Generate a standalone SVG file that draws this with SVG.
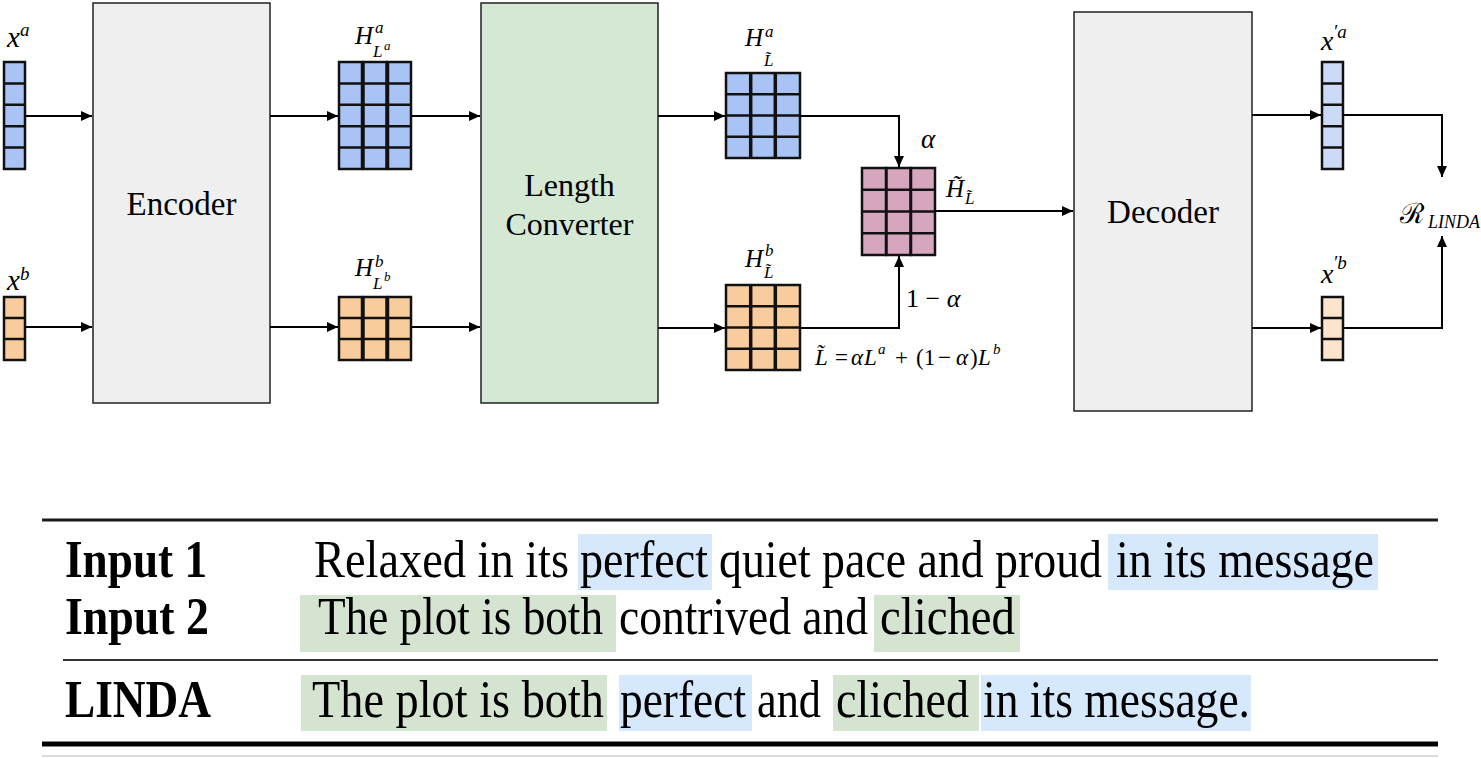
<svg xmlns="http://www.w3.org/2000/svg" width="1481" height="758" viewBox="0 0 1481 758">
<style>
.box{stroke:#222;stroke-width:1.5}
.cell{stroke:#111;stroke-width:2.5}
.div{stroke:#111;stroke-width:2.5}
.blue{fill:#a9c4f4}
.orange{fill:#f9cc9d}
.pink{fill:#d5a6bd}
.lblue{fill:#cadaf7}
.lorange{fill:#fce4cc}
.conn{stroke:#000;stroke-width:2;fill:none}
.lbl{font-family:"Liberation Serif","Times New Roman",serif;fill:#000}
.mi{font-family:"Liberation Serif","Times New Roman",serif;font-style:italic;fill:#000}
.mr{font-family:"Liberation Serif","Times New Roman",serif;fill:#000}
.tb{font-family:"Liberation Serif","Times New Roman",serif;font-size:45px;fill:#000}
.bold{font-weight:bold}
.hb{fill:#d6e9fc}
.hg{fill:#d4e4d1}
.tline{stroke:#1a1a1a}
</style>
<defs>
<marker id="ah" markerWidth="11" markerHeight="10" refX="11" refY="5" orient="auto" markerUnits="userSpaceOnUse">
<path d="M0,0 L11,5 L0,10 z" fill="#000"/>
</marker>
</defs>

<!-- Encoder -->
<g id="encoder">
<rect class="box" x="93" y="3" width="177" height="400" fill="#efefef"/>
<text class="lbl" x="181.5" y="215" font-size="33" text-anchor="middle">Encoder</text>
</g>

<!-- Length Converter -->
<g id="length-converter">
<rect class="box" x="481" y="3" width="177" height="400" fill="#d5e8d4"/>
<text class="lbl" x="569.5" y="196" font-size="32" text-anchor="middle">Length</text>
<text class="lbl" x="569.5" y="235" font-size="32" text-anchor="middle">Converter</text>
</g>

<!-- Decoder -->
<g id="decoder">
<rect class="box" x="1074" y="12" width="178" height="399" fill="#efefef"/>
<text class="lbl" x="1163" y="223" font-size="33" text-anchor="middle">Decoder</text>
</g>

<!-- x^a -->
<g id="xa">
<rect class="cell blue" x="4" y="62" width="21" height="107"/>
<path class="div" d="M4,83.4H25M4,104.8H25M4,126.2H25M4,147.6H25"/>
<text class="mi" x="7" y="47" font-size="29">x</text>
<text class="mi" x="20" y="36" font-size="19">a</text>
</g>

<!-- x^b -->
<g id="xb">
<rect class="cell orange" x="4" y="297" width="21" height="63"/>
<path class="div" d="M4,318H25M4,339H25"/>
<text class="mi" x="7" y="290" font-size="29">x</text>
<text class="mi" x="20" y="280" font-size="19">b</text>
</g>

<!-- H^a_{L^a} -->
<g id="hla">
<rect class="cell blue" x="339" y="62" width="23" height="107"/>
<rect class="cell blue" x="363.5" y="62" width="23" height="107"/>
<rect class="cell blue" x="388" y="62" width="23" height="107"/>
<path class="div" d="M339,83.4H411M339,104.8H411M339,126.2H411M339,147.6H411"/>
<text class="mi" x="355" y="44" font-size="25">H</text>
<text class="mi" x="375" y="33" font-size="17">a</text>
<text class="mi" x="373" y="57" font-size="17">L</text>
<text class="mi" x="384" y="50" font-size="13">a</text>
</g>

<!-- H^b_{L^b} -->
<g id="hlb">
<rect class="cell orange" x="339" y="297" width="23" height="63"/>
<rect class="cell orange" x="363.5" y="297" width="23" height="63"/>
<rect class="cell orange" x="388" y="297" width="23" height="63"/>
<path class="div" d="M339,318H411M339,339H411"/>
<text class="mi" x="355" y="276" font-size="25">H</text>
<text class="mi" x="375" y="267" font-size="17">b</text>
<text class="mi" x="373" y="289" font-size="17">L</text>
<text class="mi" x="384" y="281" font-size="13">b</text>
</g>

<!-- H^a_{L~} -->
<g id="hta">
<rect class="cell blue" x="726" y="73" width="74" height="85"/>
<path class="div" style="stroke-width:3.5" d="M750.7,73V158M775.3,73V158"/>
<path class="div" d="M726,94.25H800M726,115.5H800M726,136.75H800"/>
<text class="mi" x="745" y="46" font-size="25">H</text>
<text class="mi" x="765" y="37" font-size="17">a</text>
<text class="mi" x="764" y="66" font-size="17">L̃</text>
</g>

<!-- H^b_{L~} -->
<g id="htb">
<rect class="cell orange" x="726" y="285" width="74" height="85"/>
<path class="div" style="stroke-width:3.5" d="M750.7,285V370M775.3,285V370"/>
<path class="div" d="M726,306.25H800M726,327.5H800M726,348.75H800"/>
<text class="mi" x="745" y="267" font-size="25">H</text>
<text class="mi" x="765" y="256" font-size="17">b</text>
<text class="mi" x="764" y="278" font-size="17">L̃</text>
</g>

<!-- mixed H~_{L~} -->
<g id="hmix">
<rect class="cell pink" x="862" y="168" width="24" height="87"/>
<rect class="cell pink" x="886.5" y="168" width="24" height="87"/>
<rect class="cell pink" x="911" y="168" width="24" height="87"/>
<path class="div" d="M862,189.75H935M862,211.5H935M862,233.25H935"/>
<text class="mi" x="946" y="197" font-size="25">H̃</text>
<text class="mi" x="965" y="204" font-size="17">L̃</text>
</g>

<!-- x'^a -->
<g id="xpa">
<rect class="cell lblue" x="1322" y="62" width="21" height="107"/>
<path class="div" d="M1322,83.4H1343M1322,104.8H1343M1322,126.2H1343M1322,147.6H1343"/>
<text class="mi" x="1321" y="50" font-size="28">x</text>
<text class="mi" x="1333" y="38" font-size="19">′a</text>
</g>

<!-- x'^b -->
<g id="xpb">
<rect class="cell lorange" x="1322" y="297" width="21" height="63"/>
<path class="div" d="M1322,318H1343M1322,339H1343"/>
<text class="mi" x="1321" y="283" font-size="28">x</text>
<text class="mi" x="1333" y="269" font-size="19">′b</text>
</g>

<!-- R_LINDA -->
<g id="rlinda">
<text x="1400" y="223" font-size="28" font-family="'DejaVu Serif','Liberation Serif',serif" fill="#000">ℛ</text>
<text class="mi" x="1428" y="228" font-size="18">LINDA</text>
</g>

<!-- labels -->
<g id="mix-labels">
<text class="mi" x="921" y="148" font-size="27">α</text>
<text class="mr" x="906" y="307" font-size="26">1 − <tspan font-style="italic">α</tspan></text>
<text class="mi" x="815" y="365" font-size="23">L̃</text>
<text class="mr" x="835" y="365" font-size="23">=</text>
<text class="mi" x="851" y="365" font-size="23">α</text>
<text class="mi" x="864" y="365" font-size="23">L</text>
<text class="mi" x="878" y="354" font-size="15">a</text>
<text class="mr" x="895" y="365" font-size="23">+</text>
<text class="mr" x="916" y="365" font-size="23">(1</text>
<text class="mr" x="938" y="365" font-size="23">−</text>
<text class="mi" x="956" y="365" font-size="23">α</text>
<text class="mr" x="970" y="365" font-size="23">)</text>
<text class="mi" x="978" y="365" font-size="23">L</text>
<text class="mi" x="993" y="354" font-size="15">b</text>
</g>

<!-- connectors -->
<g id="connectors">
<path class="conn" d="M25,116H92" marker-end="url(#ah)"/>
<path class="conn" d="M25,327H92" marker-end="url(#ah)"/>
<path class="conn" d="M270,116H338" marker-end="url(#ah)"/>
<path class="conn" d="M270,327H338" marker-end="url(#ah)"/>
<path class="conn" d="M411,116H480" marker-end="url(#ah)"/>
<path class="conn" d="M411,327H480" marker-end="url(#ah)"/>
<path class="conn" d="M658,116H725" marker-end="url(#ah)"/>
<path class="conn" d="M658,328H725" marker-end="url(#ah)"/>
<path class="conn" d="M800,116H899V167" marker-end="url(#ah)"/>
<path class="conn" d="M800,328H899V256" marker-end="url(#ah)"/>
<path class="conn" d="M935,211H1073" marker-end="url(#ah)"/>
<path class="conn" d="M1252,115H1321" marker-end="url(#ah)"/>
<path class="conn" d="M1252,328H1321" marker-end="url(#ah)"/>
<path class="conn" d="M1343,115H1442V177" marker-end="url(#ah)"/>
<path class="conn" d="M1343,328H1442V236" marker-end="url(#ah)"/>
</g>

<!-- table -->
<g id="table">
<line class="tline" x1="42" y1="520" x2="1438" y2="520" stroke-width="3"/>
<line x1="63" y1="660" x2="1438" y2="660" stroke="#333" stroke-width="2"/>
<line x1="42" y1="744" x2="1438" y2="744" stroke="#000" stroke-width="5"/>
<line x1="42" y1="756" x2="1438" y2="756" stroke="#d0d0d0" stroke-width="1.5"/>

<rect class="hb" x="578" y="534" width="134" height="56"/>
<rect class="hb" x="1108" y="534" width="270" height="56"/>
<rect class="hg" x="300" y="595" width="316" height="57"/>
<rect class="hg" x="874" y="595" width="146" height="57"/>
<rect class="hg" x="301" y="675" width="306" height="56"/>
<rect class="hb" x="619" y="675" width="133" height="56"/>
<rect class="hg" x="833" y="675" width="146" height="56"/>
<rect class="hb" x="981" y="675" width="270" height="56"/>

<text class="tb bold" transform="translate(65,577) scale(1,1.16)" textLength="142" lengthAdjust="spacingAndGlyphs">Input 1</text>
<text class="tb bold" transform="translate(65,634) scale(1,1.16)" textLength="144" lengthAdjust="spacingAndGlyphs">Input 2</text>
<text class="tb bold" transform="translate(65,717) scale(1,1.16)" textLength="146" lengthAdjust="spacingAndGlyphs">LINDA</text>

<text class="tb" transform="translate(314,577) scale(1,1.16)" textLength="255" lengthAdjust="spacingAndGlyphs">Relaxed in its</text>
<text class="tb" transform="translate(580,577) scale(1,1.16)" textLength="128" lengthAdjust="spacingAndGlyphs" fill="#0e1c2c">perfect</text>
<text class="tb" transform="translate(719,577) scale(1,1.16)" textLength="383" lengthAdjust="spacingAndGlyphs">quiet pace and proud</text>
<text class="tb" transform="translate(1116,577) scale(1,1.16)" textLength="258" lengthAdjust="spacingAndGlyphs" fill="#0e1c2c">in its message</text>

<text class="tb" transform="translate(318,634) scale(1,1.16)" textLength="285" lengthAdjust="spacingAndGlyphs" fill="#0d1f0d">The plot is both</text>
<text class="tb" transform="translate(619,634) scale(1,1.16)" textLength="249" lengthAdjust="spacingAndGlyphs">contrived and</text>
<text class="tb" transform="translate(880,634) scale(1,1.16)" textLength="135" lengthAdjust="spacingAndGlyphs" fill="#0d1f0d">cliched</text>

<text class="tb" transform="translate(312,717) scale(1,1.16)" textLength="292" lengthAdjust="spacingAndGlyphs" fill="#0d1f0d">The plot is both</text>
<text class="tb" transform="translate(620,717) scale(1,1.16)" textLength="126" lengthAdjust="spacingAndGlyphs" fill="#0e1c2c">perfect</text>
<text class="tb" transform="translate(757,717) scale(1,1.16)" textLength="64" lengthAdjust="spacingAndGlyphs">and</text>
<text class="tb" transform="translate(836,717) scale(1,1.16)" textLength="133" lengthAdjust="spacingAndGlyphs" fill="#0d1f0d">cliched</text>
<text class="tb" transform="translate(983,717) scale(1,1.16)" textLength="267" lengthAdjust="spacingAndGlyphs" fill="#0e1c2c">in its message.</text>
</g>
</svg>
